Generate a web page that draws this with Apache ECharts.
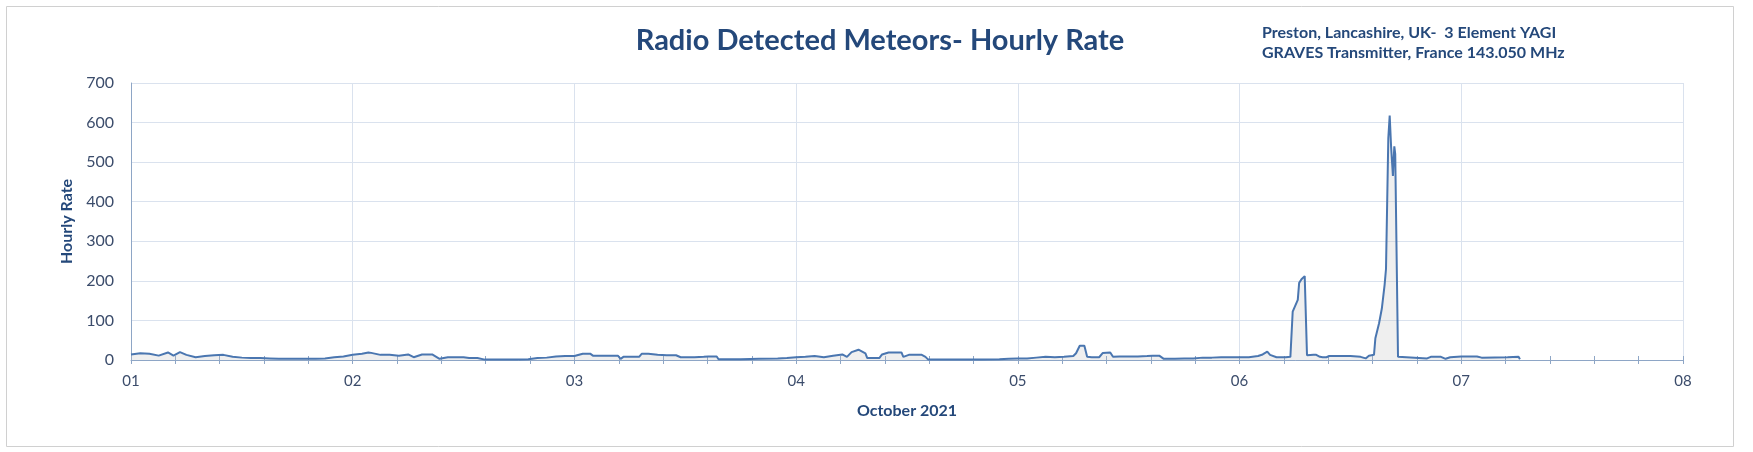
<!DOCTYPE html>
<html>
<head>
<meta charset="utf-8">
<script src="https://cdn.jsdelivr.net/npm/echarts@6/dist/echarts.min.js"></script>
<style>
html,body{margin:0;padding:0;background:#fff;}
#chart{width:1753px;height:452px;}
</style>
</head>
<body>
<div id="chart"></div>
<script>
// Hours since 01 October 2021 00:00
const hours = [
  0,1,2,3,4,4.6,5.3,6,7,8,9,10,11,12,13,14,15,16,17,18,19,20,21,22,23,
  24,25,25.7,26,27,28,29,30,30.6,31.5,32.6,33.4,34.3,36,36.6,37.5,38.3,39,40,41,42,43,44,45,46,47,
  48,48.9,49.7,50,51,52,52.7,53,53.3,55,55.3,56,56.2,57,58,59,59.5,61,62,62.5,63.4,63.6,66,68,70,71,
  72,73,74,75,76,77,77.5,78,78.75,79.5,79.7,81,81.3,82,83.4,83.6,84.2,85.6,86,86.3,88,90,92,94,95,
  96,97,98,99,100,101,102,102.3,102.7,103.2,103.5,104,104.8,105.2,106,106.3,107,108,109,110,110.6,111.3,111.8,113,114,115,116,117,118,119,
  120,121,122,122.5,123,123.3,124,125,125.5,125.75,126.3,126.45,126.7,127.05,127.15,127.3,128,128.3,128.7,129,129.4,129.7,131,132,133.1,133.65,134,134.55,134.7,135.1,135.4,135.7,135.85,136.1,136.25,136.4,136.6,136.75,136.85,137.15,137.3,140.3,140.7,141.8,142.3,142.8,
  144,145.7,145.9,146.2,149,150.2,150.35
];
const rates = [
  14,17,16,11,19,11,20,13,7,10,12,13,8,6,5,5,4,3,3,3,3,3,4,7,9,
  13,16,19,18,13,13,11,14,7,14,14,3,7,7,5,5,1,1,1,1,1,2,5,6,9,10,
  10,16,16,11,11,11,11,3,8,8,16,16,13,13,12,12,7,7,8,9,9,2,2,3,4,5,
  7,8,10,7,11,14,8,20,26,17,5,5,14,19,19,8,13,13,8,1,1,1,1,2,3,
  4,4,6,8,7,8,10,17,36,36,8,7,7,18,19,8,9,9,9,10,11,11,3,3,4,4,6,6,7,7,
  7,7,10,14,21,13,7,7,8,122,152,195,204,212,215,12,13,13,8,7,7,10,10,10,8,4,11,13,55,93,130,190,230,560,618,540,465,540,520,8,4,4,8,8,3,7,
  9,9,11,6,7,8,2
];
const dayLabels = ['01','02','03','04','05','06','07','08'];
const yTicks = [0,100,200,300,400,500,600,700];

const titleText = 'Radio Detected Meteors- Hourly Rate';
const noteLines = ['Preston, Lancashire, UK-  3 Element YAGI', 'GRAVES Transmitter, France 143.050 MHz'];
const xName = 'October 2021';
const yName = 'Hourly Rate';

const data = hours.map((h, i) => [1 + h / 24, rates[i]]);

const FONT = 'Lato, "Open Sans", sans-serif';
const DARK = '#24487A';
const LABEL = '#3B4C6B';
const GRID = '#DAE2EE';
const AXIS = '#8EA6C6';

const chart = echarts.init(document.getElementById('chart'));
chart.setOption({
  backgroundColor: '#ffffff',
  animation: false,
  textStyle: { fontFamily: FONT },
  graphic: [
    { type: 'rect', shape: { x: 6.5, y: 6.5, width: 1727, height: 440 }, style: { fill: 'none', stroke: '#D0D0D0', lineWidth: 1 }, silent: true, z: -1 },
    { type: 'text', left: 1262, top: 25, style: { text: noteLines[0], fill: DARK, font: 'bold 16px ' + FONT } },
    { type: 'text', left: 1262, top: 45, style: { text: noteLines[1], fill: DARK, font: 'bold 16px ' + FONT } }
  ],
  title: {
    text: titleText,
    left: 875, top: 21, textAlign: 'center',
    textStyle: { color: DARK, fontSize: 29, fontWeight: 'bold', fontFamily: FONT }
  },
  grid: { left: 131, right: 70, top: 83, bottom: 92, containLabel: false },
  xAxis: [
    {
      type: 'value', min: 1, max: 8, interval: 1,
      name: xName, nameLocation: 'middle', nameGap: 43,
      nameTextStyle: { color: DARK, fontSize: 16, fontWeight: 'bold', fontFamily: FONT },
      axisLine: { show: true, lineStyle: { color: AXIS, width: 1 } },
      axisTick: { show: true, length: 4, lineStyle: { color: AXIS } },
      minorTick: { show: true, splitNumber: 5, length: 4, lineStyle: { color: AXIS } },
      axisLabel: { color: LABEL, fontSize: 15, margin: 14, formatter: v => dayLabels[Math.round(v) - 1] || '' },
      splitLine: { show: true, lineStyle: { color: GRID, width: 1 } },
      minorSplitLine: { show: false }
    },
    {
      type: 'value', min: 1, max: 8, interval: 1, position: 'bottom',
      axisLine: { show: false },
      axisTick: { show: true, inside: true, length: 4, lineStyle: { color: AXIS } },
      minorTick: { show: true, splitNumber: 5, length: 4, lineStyle: { color: AXIS } },
      axisLabel: { show: false },
      splitLine: { show: false }
    }
  ],
  yAxis: {
    type: 'value', min: 0, max: 700, interval: 100,
    name: yName, nameLocation: 'middle', nameGap: 52, nameRotate: 90,
    nameTextStyle: { color: DARK, fontSize: 16, fontWeight: 'bold', fontFamily: FONT },
    axisLine: { show: true, lineStyle: { color: AXIS, width: 1 } },
    axisTick: { show: false },
    axisLabel: { color: LABEL, fontSize: 16, margin: 17, formatter: v => yTicks.includes(v) ? String(v) : '' },
    splitLine: { show: true, lineStyle: { color: GRID, width: 1 } }
  },
  series: [{
    type: 'line',
    xAxisIndex: 0,
    data: data,
    showSymbol: false,
    smooth: false,
    lineStyle: { color: '#4A76B0', width: 2 },
    itemStyle: { color: '#4A76B0' },
    areaStyle: { color: 'rgba(190,190,190,0.35)' }
  }]
});
</script>
</body>
</html>
